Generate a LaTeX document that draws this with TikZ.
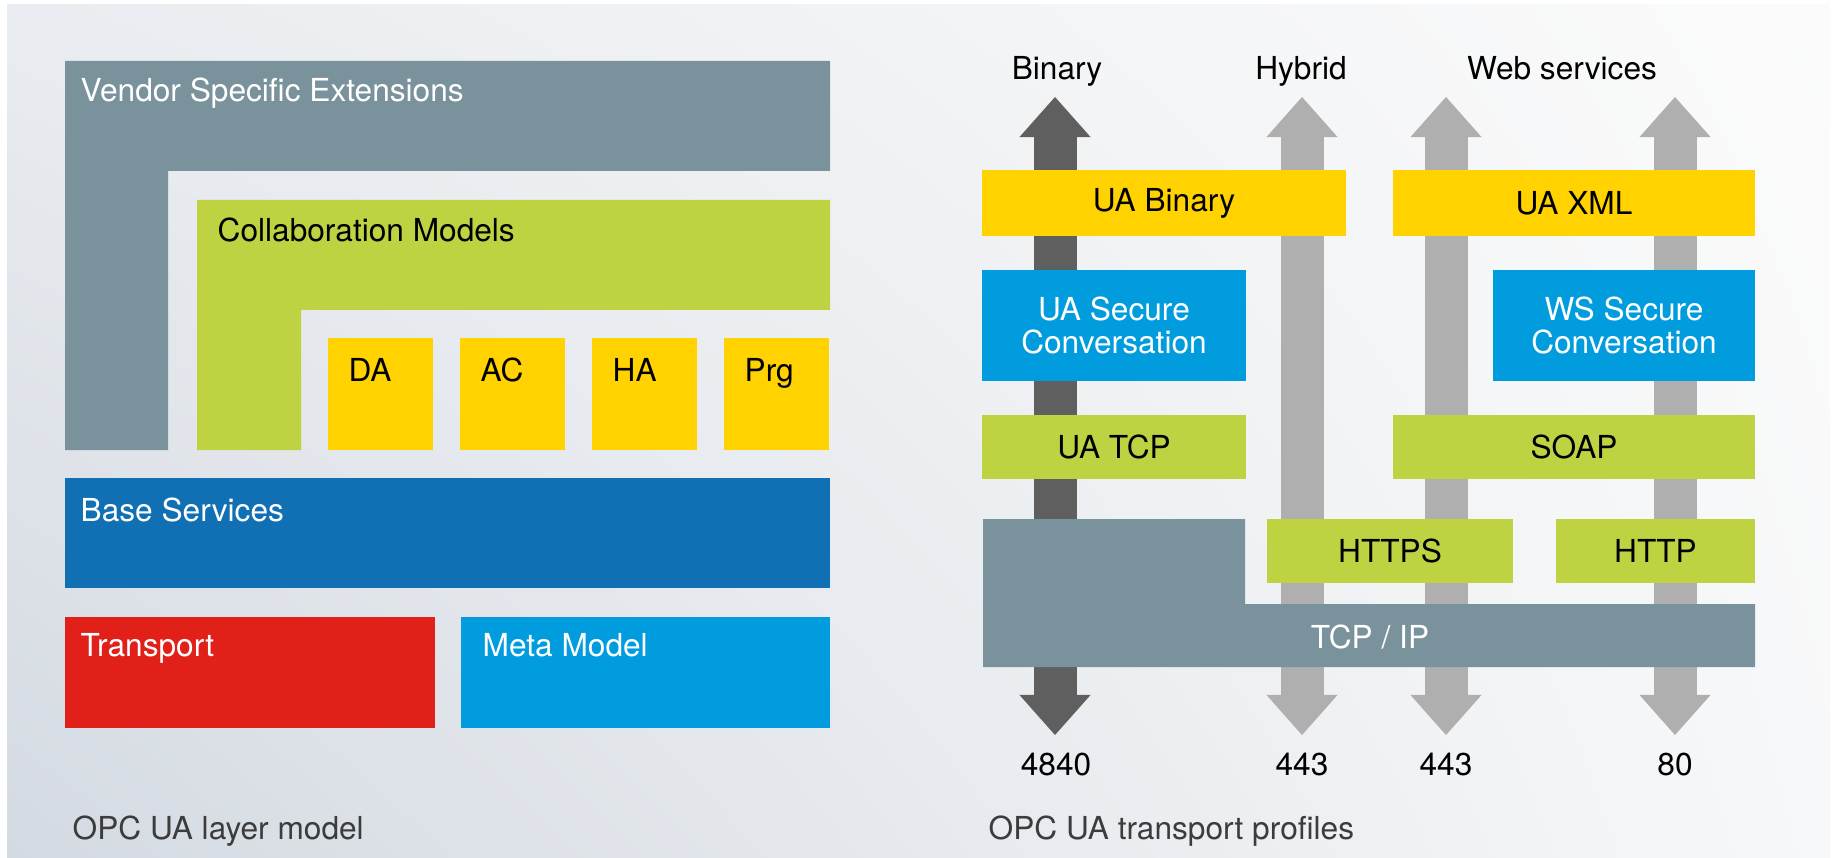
\documentclass[tikz,border=0pt]{standalone}
\usepackage{fontspec}
\setmainfont{TeX Gyre Heros}
\usetikzlibrary{arrows.meta,shadings}

\definecolor{slate}{RGB}{122,146,155}
\definecolor{lime}{RGB}{191,210,65}
\definecolor{uayellow}{RGB}{255,210,0}
\definecolor{baseblue}{RGB}{16,112,179}
\definecolor{skyblue}{RGB}{0,156,222}
\definecolor{trred}{RGB}{226,32,26}
\definecolor{darkarrow}{RGB}{95,95,95}
\definecolor{lightarrow}{RGB}{175,175,175}
\definecolor{captiongray}{RGB}{60,60,60}
\definecolor{bgul}{RGB}{233,236,240}
\definecolor{bgur}{RGB}{251,251,251}
\definecolor{bgll}{RGB}{212,218,226}
\definecolor{bglr}{RGB}{247,248,249}

\tikzset{
  lbl/.style={anchor=base west, inner sep=0pt, font=\fontsize{9}{9.6}\selectfont},
  toplbl/.style={anchor=base, inner sep=0pt, font=\fontsize{9}{9.6}\selectfont},
  box/.style={inner sep=0pt, align=center, font=\fontsize{9}{9.6}\selectfont},
  fatarrow/.style={line width=0.43cm, <->, >={Triangle[width=0.71cm,length=0.40cm,line width=0pt]}}
}

\begin{document}
\begin{tikzpicture}[x=0.01cm,y=-0.01cm]

  \useasboundingbox (0,0) rectangle (1837,858);
% background
  \shade[upper left=bgul, upper right=bgur, lower left=bgll, lower right=bglr]
        (7,5) rectangle (1830,858);

% layer model
  \fill[slate] (65,61) -- (830,61) -- (830,171) -- (168,171) -- (168,450) -- (65,450) -- cycle;
  \node[lbl, text=white] (vse) at (80,102) {Vendor Specific Extensions};

  \fill[lime] (197,200) -- (830,200) -- (830,310) -- (301,310) -- (301,450) -- (197,450) -- cycle;
  \node[lbl] (collab) at (217,242) {Collaboration Models};

  \foreach \t [count=\i from 0] in {DA,AC,HA,Prg} {
    \fill[uayellow] (328+132*\i,338) rectangle ++(105,112);
    \node[lbl] (spec\t) at (348+132*\i,382) {\t};
  }

  \fill[baseblue] (65,478) rectangle (830,588);
  \node[lbl, text=white] (base) at (80,521) {Base Services};

  \fill[trred] (65,617) rectangle (435,728);
  \node[lbl, text=white] (transport) at (80,656) {Transport};

  \fill[skyblue] (461,617) rectangle (830,728);
  \node[lbl, text=white] (meta) at (482,656) {Meta Model};

  \node[lbl, text=captiongray] (capleft) at (72,839) {OPC UA layer model};

% transport profiles: labels and ports
  \node[toplbl] (binary) at (1057,80) {Binary};
  \node[toplbl] (hybrid) at (1301,80) {Hybrid};
  \node[toplbl] (websvc) at (1562,80) {Web services};

  \node[toplbl] (p4840) at (1056,775) {4840};
  \node[toplbl] (p443a) at (1302,775) {443};
  \node[toplbl] (p443b) at (1446,775) {443};
  \node[toplbl] (p80) at (1675,775) {80};

  \coordinate (bintop) at (1055,97);   \coordinate (binbot) at (1055,735);
  \coordinate (hybtop) at (1302,97);   \coordinate (hybbot) at (1302,735);
  \coordinate (wsatop) at (1446,97);   \coordinate (wsabot) at (1446,735);
  \coordinate (wsbtop) at (1675,97);   \coordinate (wsbbot) at (1675,735);

  \draw[fatarrow, darkarrow] (bintop) -- (binbot);
  \draw[fatarrow, lightarrow] (hybtop) -- (hybbot);
  \draw[fatarrow, lightarrow] (wsatop) -- (wsabot);
  \draw[fatarrow, lightarrow] (wsbtop) -- (wsbbot);

% protocol stack
  \node[box, fill=uayellow, minimum width=3.635cm, minimum height=0.66cm] (uabin) at (1164,203) {UA Binary};
  \node[box, fill=uayellow, minimum width=3.62cm, minimum height=0.66cm] (uaxml) at (1574,203) {UA XML};
  \node[box, fill=skyblue, text=white, minimum width=2.635cm, minimum height=1.11cm] (uasec) at (1114,325.5) {UA Secure\\Conversation};
  \node[box, fill=skyblue, text=white, minimum width=2.62cm, minimum height=1.11cm] (wssec) at (1624,325.5) {WS Secure\\Conversation};
  \node[box, fill=lime, minimum width=2.635cm, minimum height=0.64cm] (uatcp) at (1114,447) {UA TCP};
  \node[box, fill=lime, minimum width=3.62cm, minimum height=0.64cm] (soap) at (1574,447) {SOAP};
  \node[box, fill=lime, minimum width=2.46cm, minimum height=0.64cm] (https) at (1390,551) {HTTPS};
  \node[box, fill=lime, minimum width=1.99cm, minimum height=0.64cm] (http) at (1655.5,551) {HTTP};

  \fill[slate] (983,519) -- (1245,519) -- (1245,604) -- (1755,604) -- (1755,667) -- (983,667) -- cycle;
  \node[box, text=white] (tcpip) at (1370,637) {TCP / IP};

  \node[lbl, text=captiongray] (capright) at (988,839) {OPC UA transport profiles};

\end{tikzpicture}
\end{document}
